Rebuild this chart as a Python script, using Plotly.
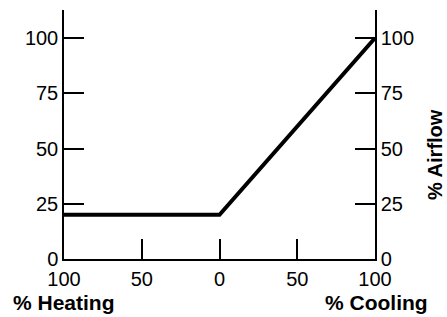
import plotly.graph_objects as go

# Signed position: negative = % heating, positive = % cooling
position = [-100, 0, 100]
airflow = [20, 20, 100]

x_tickvals = [-100, -50, 0, 50, 100]
x_ticktext = ["100", "50", "0", "50", "100"]
y_tickvals = [0, 25, 50, 75, 100]
y_ticktext = ["0", "25", "50", "75", "100"]

FONT = "Liberation Sans, Arial, Helvetica, sans-serif"

L, R, T, B = 64, 72, 10, 58
W, H = 447, 317
plot_w = W - L - R
plot_h = H - T - B

fig = go.Figure()
fig.add_trace(go.Scatter(x=position, y=airflow, mode="lines",
                         line=dict(color="black", width=4), showlegend=False,
                         hoverinfo="skip"))
fig.add_trace(go.Scatter(x=position, y=airflow, mode="lines", yaxis="y2",
                         line=dict(color="rgba(0,0,0,0)", width=0), showlegend=False,
                         hoverinfo="skip"))

axis_common = dict(showgrid=False, zeroline=False, showline=True, linecolor="black",
                   linewidth=1.5, ticks="inside", ticklen=20, tickwidth=1.5,
                   tickcolor="black", automargin=False,
                   tickfont=dict(family=FONT, size=20, color="black"))

def px_x(px):
    return (px - L) / plot_w

def px_y(py):
    return (H - B - py) / plot_h

title_font = dict(family=FONT, size=21, color="black")

fig.update_layout(
    width=W, height=H,
    margin=dict(l=L, r=R, t=T, b=B),
    paper_bgcolor="white", plot_bgcolor="white",
    xaxis=dict(range=[-100, 100], tickvals=x_tickvals, ticktext=x_ticktext,
               ticklabelstandoff=1, **axis_common),
    yaxis=dict(range=[0, 112.7], tickvals=y_tickvals, ticktext=y_ticktext, side="left", **axis_common),
    yaxis2=dict(range=[0, 112.7], tickvals=y_tickvals, ticktext=y_ticktext, side="right",
                overlaying="y", **axis_common),
    annotations=[
        dict(text="<b>% Heating</b>", x=px_x(64), xref="paper", y=px_y(302), yref="paper",
             xanchor="center", yanchor="middle", showarrow=False, font=title_font),
        dict(text="<b>% Cooling</b>", x=px_x(376), xref="paper", y=px_y(302), yref="paper",
             xanchor="center", yanchor="middle", showarrow=False, font=title_font),
        dict(text="<b>% Airflow</b>", x=px_x(435), xref="paper", y=px_y(155), yref="paper",
             xanchor="center", yanchor="middle", showarrow=False, textangle=-90,
             font=dict(family=FONT, size=20, color="black")),
    ],
)

fig.write_html("out.html", config={"displayModeBar": False},
               post_script="document.body.style.margin='0';")
